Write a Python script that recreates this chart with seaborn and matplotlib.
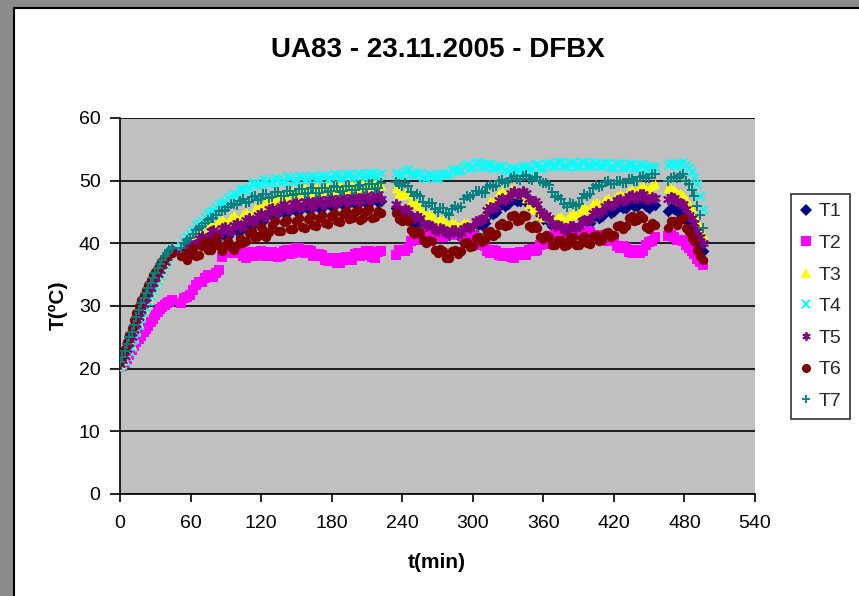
import matplotlib
matplotlib.use("Agg")
import matplotlib.pyplot as plt
import seaborn as sns
from matplotlib.lines import Line2D
from matplotlib.patches import Rectangle

sns.set_theme(style="white")
plt.rcParams['font.family'] = ['Liberation Sans', 'DejaVu Sans']

# ---------------- data ----------------
# main readings
time_seg1 = [0, 2, 4, 6, 8, 10, 12, 14, 16, 18, 20, 22, 24, 26, 28, 30, 32, 34, 36, 38, 40, 42, 44]
time_seg2 = [52, 57, 62, 67, 72, 77, 82, 87, 92, 97, 102, 107, 112, 117, 122, 127, 132, 137,
             142, 147, 152, 157, 162, 167, 172, 177, 182, 187, 192, 197, 202, 207, 212, 217, 222]
time_seg3 = [235, 240, 245, 250, 255, 260, 265, 270, 275, 280, 285, 290, 295, 300, 305, 310,
             315, 320, 325, 330, 335, 340, 345, 350, 355, 360, 365, 370, 375, 380, 385, 390,
             395, 400, 405, 410, 415, 420, 425, 430, 435, 440, 445, 450, 455]
time_seg4 = [466, 471, 476, 481, 486, 491, 496]
# in-between readings
time_seg2b = [54.5, 59.5, 64.5, 69.5, 74.5, 79.5, 84.5, 89.5, 94.5, 99.5, 104.5, 109.5, 114.5,
              119.5, 124.5, 129.5, 134.5, 139.5, 144.5, 149.5, 154.5, 159.5, 164.5, 169.5,
              174.5, 179.5, 184.5, 189.5, 194.5, 199.5, 204.5, 209.5, 214.5, 219.5]
time_seg3b = [237.5, 242.5, 247.5, 252.5, 257.5, 262.5, 267.5, 272.5, 277.5, 282.5, 287.5,
              292.5, 297.5, 302.5, 307.5, 312.5, 317.5, 322.5, 327.5, 332.5, 337.5, 342.5,
              347.5, 352.5, 357.5, 362.5, 367.5, 372.5, 377.5, 382.5, 387.5, 392.5, 397.5,
              402.5, 407.5, 412.5, 417.5, 422.5, 427.5, 432.5, 437.5, 442.5, 447.5, 452.5]
time_seg4b = [468.5, 473.5, 478.5, 483.5, 488.5, 493.5]

T1 = ([20.8, 21.5, 22.3, 23.3, 24.3, 25.2, 26.3, 27.5, 28.6, 29.7, 30.6, 31.4, 32.2, 33.0, 33.8,
       34.6, 35.3, 36.0, 36.6, 37.3, 38.0, 38.5, 39.0]
      + [38.3, 39.4, 39.2, 40.3, 40.0, 41.2, 40.6, 41.7, 41.2, 42.4, 42.0, 43.2, 42.8, 44.0, 43.6,
         44.8, 44.3, 45.4, 44.8, 45.8, 45.1, 46.1, 45.4, 46.3, 45.7, 46.5, 45.9, 46.7, 46.0, 46.9,
         46.2, 47.1, 46.4, 47.2, 46.8]
      + [45.7, 44.8, 44.6, 43.3, 43.3, 42.3, 42.6, 41.7, 42.1, 41.3, 41.8, 41.3, 42.1, 42.0, 43.1,
         43.3, 44.8, 45.0, 46.3, 46.2, 47.1, 46.7, 47.0, 45.7, 45.5, 43.9, 43.6, 42.3, 42.5, 41.7,
         42.3, 42.1, 43.3, 43.3, 44.5, 44.3, 45.3, 45.1, 46.0, 45.7, 46.5, 46.0, 46.5, 45.7, 46.1]
      + [45.2, 45.5, 45.0, 44.0, 42.5, 40.5, 38.8])
T1_mid = ([38.9, 39.1, 40.1, 39.9, 40.9, 40.6, 41.4, 41.2, 42.0, 41.9, 42.8, 42.7, 43.6, 43.5,
           44.4, 44.3, 45.1, 44.9, 45.5, 45.2, 45.8, 45.5, 46.1, 45.7, 46.3, 45.9, 46.6, 46.1,
           46.7, 46.3, 46.8, 46.4, 47.0, 46.6]
          + [45.0, 44.9, 43.7, 43.6, 42.5, 42.7, 41.9, 42.1, 41.4, 41.8, 41.3, 42.0, 41.8, 42.8,
             43.0, 44.3, 44.7, 45.9, 46.0, 46.9, 46.7, 47.1, 46.1, 45.8, 44.5, 43.9, 42.7, 42.6,
             41.8, 42.2, 41.9, 43.0, 43.0, 44.2, 44.1, 45.1, 44.9, 45.8, 45.6, 46.3, 46.0, 46.5,
             45.9, 46.1]
          + [45.6, 45.1, 44.6, 43.2, 41.6, 39.6])

T2 = ([20.3, 20.5, 20.9, 21.5, 22.2, 23.0, 23.6, 24.2, 24.7, 25.2, 25.8, 26.3, 26.8, 27.4, 28.0,
       28.6, 29.1, 29.6, 29.9, 30.2, 30.4, 30.7, 31.0]
      + [30.5, 31.5, 32.5, 33.8, 34.5, 34.8, 35.2, 37.8, 38.9, 38.4, 38.7, 37.7, 38.6, 38.1, 38.6,
         38.0, 38.4, 37.9, 38.9, 38.4, 39.3, 38.5, 38.8, 37.9, 38.1, 37.2, 37.6, 36.9, 37.8, 37.4,
         38.5, 38.1, 38.7, 37.7, 38.7]
      + [38.2, 39.0, 39.2, 40.8, 40.9, 41.8, 41.5, 41.8, 41.0, 41.8, 41.5, 41.8, 40.9, 41.1, 39.7,
         39.5, 38.5, 38.8, 38.0, 38.5, 37.7, 38.6, 38.2, 39.1, 38.9, 40.1, 40.2, 41.5, 41.5, 42.3,
         41.9, 42.3, 41.5, 41.8, 41.0, 41.3, 40.3, 40.5, 39.3, 39.3, 38.5, 38.9, 38.7, 40.2, 41.0]
      + [41.2, 41.0, 40.5, 39.8, 38.8, 37.5, 36.5])
T2_mid = ([31.2, 31.8, 33.3, 33.9, 34.9, 34.6, 35.8, 38.4, 38.4, 38.9, 37.9, 38.4, 38.0, 38.7,
           38.0, 38.6, 37.8, 38.7, 38.3, 39.2, 38.6, 39.0, 38.0, 38.3, 37.3, 37.7, 36.9, 37.6,
           37.3, 38.3, 37.9, 38.8, 37.8, 38.6]
          + [38.9, 38.8, 40.3, 40.5, 41.6, 41.3, 41.9, 41.1, 41.7, 41.3, 42.0, 41.0, 41.3, 40.1,
             39.9, 38.7, 38.9, 38.1, 38.5, 37.8, 38.4, 38.1, 38.9, 38.7, 39.8, 39.9, 41.1, 41.2,
             42.2, 41.8, 42.4, 41.6, 41.9, 41.1, 41.4, 40.5, 40.7, 39.6, 39.6, 38.6, 39.0, 38.5,
             39.8, 40.3]
          + [41.4, 40.6, 40.3, 39.2, 38.3, 37.0])

T3 = ([20.4, 20.8, 21.4, 22.2, 23.0, 23.8, 25.0, 26.2, 27.3, 28.4, 29.3, 30.2, 31.1, 31.9, 32.8,
       33.6, 34.4, 35.2, 35.9, 36.7, 37.5, 38.2, 38.8]
      + [38.8, 39.8, 40.3, 41.6, 41.7, 43.0, 42.9, 43.9, 43.4, 44.5, 43.9, 45.0, 44.6, 46.0, 45.9,
         47.2, 46.8, 47.9, 47.4, 48.4, 47.9, 48.8, 48.2, 49.0, 48.4, 49.2, 48.5, 49.4, 48.7, 49.5,
         48.9, 49.7, 49.0, 49.8, 49.3]
      + [48.8, 47.7, 47.8, 46.2, 45.8, 44.5, 44.5, 43.5, 43.8, 43.0, 43.3, 42.9, 43.3, 42.9, 44.1,
         44.7, 46.8, 47.2, 48.3, 48.0, 48.8, 47.9, 47.3, 45.5, 45.3, 44.2, 44.5, 43.7, 44.3, 43.9,
         44.8, 44.7, 45.8, 45.7, 46.6, 46.3, 47.3, 47.0, 47.9, 47.7, 48.6, 48.3, 49.1, 48.7, 49.4]
      + [48.8, 48.6, 48.0, 47.0, 45.5, 43.5, 41.5])
T3_mid = ([39.5, 39.7, 41.1, 41.3, 42.6, 42.6, 43.6, 43.4, 44.2, 43.9, 44.7, 44.5, 45.6, 45.6,
           46.8, 46.7, 47.6, 47.3, 48.2, 47.8, 48.6, 48.1, 48.9, 48.3, 49.1, 48.5, 49.3, 48.7,
           49.4, 48.9, 49.6, 49.0, 49.7, 49.2]
          + [48.0, 48.0, 46.8, 46.2, 44.9, 44.7, 43.8, 43.9, 43.2, 43.4, 42.8, 43.4, 42.8, 43.8,
             44.2, 46.0, 46.8, 48.0, 47.9, 48.6, 48.1, 47.8, 46.2, 45.6, 44.6, 44.6, 43.9, 44.2,
             43.8, 44.6, 44.5, 45.5, 45.5, 46.4, 46.2, 47.0, 46.9, 47.7, 47.5, 48.4, 48.2, 49.0,
             48.6, 49.3]
          + [48.9, 48.1, 47.7, 46.2, 44.6, 42.4])

T4 = ([20.3, 20.7, 21.2, 22.0, 22.8, 23.5, 24.7, 25.9, 27.0, 28.1, 29.0, 29.9, 30.8, 31.7, 32.5,
       33.4, 34.2, 35.0, 35.8, 36.6, 37.4, 38.2, 39.0]
      + [39.5, 41.0, 42.2, 43.2, 44.2, 45.0, 45.8, 46.5, 47.2, 47.8, 48.6, 48.5, 49.6, 49.3, 50.2,
         49.6, 50.4, 49.8, 50.7, 49.9, 50.8, 50.1, 50.8, 50.3, 50.9, 50.3, 51.0, 50.4, 51.1, 50.5,
         51.2, 50.6, 51.3, 50.7, 51.3]
      + [51.3, 50.9, 51.8, 50.9, 51.3, 50.5, 50.9, 50.5, 51.3, 51.0, 51.9, 51.7, 52.6, 52.2, 52.9,
         52.2, 52.7, 52.0, 52.3, 51.5, 52.1, 51.7, 52.4, 51.9, 52.6, 52.1, 52.8, 52.3, 52.9, 52.2,
         52.9, 52.4, 52.9, 52.4, 52.8, 52.3, 52.8, 52.1, 52.8, 52.1, 52.6, 52.1, 52.5, 52.0, 52.2]
      + [52.5, 52.6, 52.7, 52.5, 51.5, 49.5, 45.5])
T4_mid = ([40.4, 41.5, 42.9, 43.6, 44.8, 45.3, 46.3, 46.8, 47.6, 47.9, 48.7, 48.9, 49.6, 49.5,
           50.0, 49.8, 50.3, 50.0, 50.5, 50.1, 50.6, 50.2, 50.7, 50.3, 50.8, 50.4, 50.9, 50.5,
           51.0, 50.6, 51.1, 50.7, 51.2, 50.8]
          + [50.9, 51.6, 51.1, 51.3, 50.6, 51.0, 50.4, 51.1, 50.9, 51.7, 51.5, 52.4, 52.1, 52.8,
             52.3, 52.6, 52.1, 52.4, 51.7, 52.0, 51.7, 52.3, 51.9, 52.5, 52.1, 52.7, 52.3, 52.9,
             52.3, 52.8, 52.4, 53.0, 52.4, 52.9, 52.3, 52.8, 52.2, 52.7, 52.2, 52.6, 52.1, 52.6,
             52.0, 52.4]
          + [52.8, 52.4, 52.9, 52.0, 50.6, 47.6])

T5 = ([20.7, 21.4, 22.1, 23.1, 24.1, 25.0, 26.1, 27.2, 28.3, 29.4, 30.3, 31.2, 32.0, 32.8, 33.6,
       34.4, 35.1, 35.8, 36.5, 37.1, 37.8, 38.3, 38.8]
      + [38.5, 39.6, 39.7, 40.9, 40.6, 41.9, 41.4, 42.4, 41.9, 43.0, 42.6, 43.8, 43.4, 44.6, 44.2,
         45.4, 44.9, 46.0, 45.4, 46.4, 45.8, 46.7, 46.0, 46.9, 46.2, 47.1, 46.4, 47.3, 46.6, 47.4,
         46.7, 47.6, 46.9, 47.8, 47.1]
      + [46.3, 45.2, 45.3, 44.0, 44.1, 42.7, 42.8, 41.9, 42.3, 41.5, 42.1, 41.7, 42.6, 42.7, 43.8,
         44.2, 45.8, 46.0, 47.3, 47.2, 48.3, 47.9, 48.1, 46.7, 46.3, 44.5, 44.1, 42.7, 42.8, 42.0,
         42.8, 42.7, 43.8, 43.9, 45.1, 45.2, 46.3, 46.2, 47.1, 46.9, 47.7, 47.3, 47.8, 47.0, 47.3]
      + [47.0, 47.3, 46.5, 45.5, 44.0, 42.0, 40.0])
T5_mid = ([38.6, 40.0, 39.9, 41.2, 40.9, 42.1, 41.5, 42.6, 42.0, 43.3, 42.7, 44.1, 43.5, 44.9,
           44.3, 45.6, 45.0, 46.2, 45.4, 46.6, 45.8, 46.8, 46.0, 47.0, 46.2, 47.2, 46.4, 47.4,
           46.6, 47.5, 46.8, 47.7, 47.0, 47.9]
          + [45.5, 45.5, 44.4, 44.3, 43.2, 43.0, 42.1, 42.4, 41.6, 42.1, 41.6, 42.4, 42.4, 43.5,
             43.7, 45.3, 45.6, 46.9, 46.9, 48.0, 47.8, 48.3, 47.1, 46.8, 45.1, 44.6, 43.2, 43.0,
             42.1, 42.7, 42.5, 43.5, 43.6, 44.8, 44.9, 46.0, 45.9, 46.9, 46.7, 47.5, 47.2, 47.8,
             47.1, 47.4]
          + [47.4, 46.7, 46.2, 44.6, 43.2, 41.0])

T6 = ([21.2, 22.0, 23.2, 24.3, 25.4, 26.5, 27.7, 28.9, 30.0, 31.0, 31.8, 32.6, 33.4, 34.2, 34.9,
       35.5, 36.1, 36.7, 37.2, 37.6, 38.0, 38.3, 38.5]
      + [38.0, 37.3, 39.3, 38.2, 40.3, 39.0, 40.8, 38.7, 40.3, 38.9, 40.9, 40.3, 42.0, 41.2, 42.2,
         41.8, 43.5, 42.0, 43.8, 42.3, 44.1, 42.5, 44.3, 42.8, 44.6, 43.1, 44.8, 43.4, 45.1, 44.0,
         45.3, 44.1, 45.4, 44.2, 44.8]
      + [44.9, 43.6, 43.5, 41.5, 41.7, 40.0, 40.3, 38.5, 38.8, 37.6, 38.9, 38.7, 40.2, 39.5, 41.0,
         40.5, 42.0, 41.5, 43.3, 43.0, 44.5, 43.7, 44.3, 42.5, 42.5, 40.7, 41.0, 39.7, 40.5, 39.8,
         41.0, 39.7, 41.1, 39.9, 41.3, 40.5, 41.8, 41.3, 43.0, 42.7, 44.3, 43.8, 44.0, 42.3, 43.0]
      + [42.5, 43.5, 43.8, 42.5, 40.8, 39.0, 37.3])
T6_mid = ([38.6, 38.2, 38.0, 39.6, 39.0, 40.1, 39.5, 39.7, 39.4, 39.8, 40.0, 41.6, 40.8, 42.6,
           41.0, 43.0, 42.0, 43.4, 42.3, 43.6, 42.6, 43.9, 42.9, 44.1, 43.2, 44.4, 43.5, 44.7,
           43.9, 45.0, 43.8, 45.2, 44.0, 45.1]
          + [43.9, 43.9, 42.2, 42.0, 40.5, 40.6, 39.0, 39.1, 37.7, 38.8, 38.3, 40.0, 39.4, 40.8,
             40.2, 41.8, 41.2, 42.9, 42.7, 44.3, 43.6, 44.6, 42.8, 43.0, 41.0, 41.4, 39.8, 40.6,
             39.6, 40.9, 39.8, 40.9, 40.0, 41.1, 40.4, 41.7, 41.0, 42.7, 42.3, 44.0, 43.5, 44.5,
             42.6, 43.2]
          + [43.5, 43.0, 44.0, 41.8, 40.3, 38.0])

T7 = ([21.0, 21.8, 22.8, 23.9, 25.0, 25.8, 27.0, 28.2, 29.3, 30.4, 31.3, 32.1, 32.9, 33.7, 34.5,
       35.3, 36.0, 36.7, 37.3, 37.9, 38.5, 38.9, 39.3]
      + [39.2, 40.5, 41.5, 42.5, 43.2, 44.0, 44.6, 45.2, 45.8, 46.2, 46.8, 46.4, 47.4, 46.9, 47.9,
         47.2, 48.2, 47.5, 48.4, 47.7, 48.7, 47.8, 48.8, 48.1, 48.8, 48.2, 49.1, 48.2, 49.2, 48.5,
         49.2, 48.6, 49.5, 48.6, 49.7]
      + [49.8, 49.2, 49.2, 47.5, 47.5, 46.0, 46.4, 45.0, 45.7, 44.6, 45.9, 45.8, 47.6, 47.7, 48.4,
         48.1, 49.3, 49.1, 50.1, 49.8, 50.7, 50.1, 50.9, 50.1, 50.6, 49.6, 49.3, 47.4, 47.1, 45.8,
         46.3, 46.2, 47.8, 47.9, 49.3, 49.2, 49.9, 49.5, 50.0, 49.6, 50.3, 49.9, 50.8, 50.5, 51.0]
      + [50.0, 50.6, 50.8, 50.0, 48.5, 46.0, 42.5])
T7_mid = ([40.0, 40.9, 42.2, 42.7, 43.8, 44.1, 45.1, 45.3, 46.2, 46.1, 47.0, 46.6, 47.5, 47.1,
           47.9, 47.4, 48.2, 47.6, 48.4, 47.9, 48.6, 48.0, 48.8, 48.1, 48.9, 48.3, 49.0, 48.4,
           49.2, 48.5, 49.3, 48.7, 49.4, 48.8]
          + [49.4, 49.6, 48.2, 47.9, 46.6, 46.5, 45.5, 45.6, 44.9, 45.5, 45.6, 47.0, 47.4, 48.4,
             48.0, 49.0, 49.0, 49.9, 49.7, 50.5, 50.2, 50.8, 50.3, 50.6, 49.9, 49.7, 48.2, 47.5,
             46.3, 46.4, 45.9, 47.2, 47.6, 48.8, 49.0, 49.8, 49.5, 50.0, 49.6, 50.2, 49.9, 50.6,
             50.4, 51.1]
          + [50.5, 50.4, 51.0, 49.4, 47.6, 44.5])

series_names = ["T1", "T2", "T3", "T4", "T5", "T6", "T7"]
series_main = [T1, T2, T3, T4, T5, T6, T7]
series_mid = [T1_mid, T2_mid, T3_mid, T4_mid, T5_mid, T6_mid, T7_mid]

x_ticks = [0, 60, 120, 180, 240, 300, 360, 420, 480, 540]
y_ticks = [0, 10, 20, 30, 40, 50, 60]

title_text = "UA83 - 23.11.2005 - DFBX"
x_label = "t(min)"
y_label = "T(ºC)"

# ---------------- style ----------------
colors = {"T1": "#000080", "T2": "#FF00FF", "T3": "#FFFF00", "T4": "#00FFFF",
          "T5": "#800080", "T6": "#800000", "T7": "#008080"}
markers = {"T1": "D", "T2": "s", "T3": "^", "T4": "x",
           "T5": (6, 2, 0), "T6": "o", "T7": "+"}
sizes = {"T1": 36, "T2": 42, "T3": 48, "T4": 38, "T5": 44, "T6": 46, "T7": 62}
line_art = {"T4", "T5", "T7"}

times_main = time_seg1 + time_seg2 + time_seg3 + time_seg4
times_mid = time_seg2b + time_seg3b + time_seg4b

W, H = 859, 596
fig = plt.figure(figsize=(W / 100, H / 100), dpi=100)
fig.patch.set_facecolor("white")

# window-like frame (grey band top/left)
fig.patches.append(Rectangle((0, 1 - 7 / H), 1, 7 / H, transform=fig.transFigure,
                             facecolor="#8c8c8c", edgecolor="none", zorder=0))
fig.patches.append(Rectangle((0, 0), 13 / W, 1, transform=fig.transFigure,
                             facecolor="#8c8c8c", edgecolor="none", zorder=0))
fig.lines.append(Line2D([13.5 / W, 1], [1 - 7.5 / H, 1 - 7.5 / H], transform=fig.transFigure,
                        color="black", linewidth=1.5))
fig.lines.append(Line2D([13.5 / W, 13.5 / W], [0, 1 - 7.5 / H], transform=fig.transFigure,
                        color="black", linewidth=1.5))

ax = fig.add_axes([120 / W, 1 - 494 / H, 635 / W, 376 / H])
ax.set_facecolor("#C0C0C0")

for name, vals, vals_mid in zip(series_names, series_main, series_mid):
    xs = times_main + times_mid
    ys = vals + vals_mid
    if name in line_art:
        sns.scatterplot(x=xs, y=ys, ax=ax, marker=markers[name], color=colors[name],
                        s=sizes[name], linewidth=1.4, zorder=3, legend=False)
    else:
        sns.scatterplot(x=xs, y=ys, ax=ax, marker=markers[name], color=colors[name],
                        s=sizes[name], linewidth=0, edgecolor=colors[name], zorder=3, legend=False)

ax.set_xlim(0, 540)
ax.set_ylim(0, 60)
ax.set_xticks(x_ticks)
ax.set_yticks(y_ticks)
ax.set_xticklabels([str(v) for v in x_ticks])
ax.set_yticklabels([str(v) for v in y_ticks])
ax.yaxis.grid(True, color="black", linewidth=1.2, zorder=1)
ax.xaxis.grid(False)
ax.set_axisbelow(True)
for side in ["top", "right"]:
    ax.spines[side].set_visible(False)
for side in ["left", "bottom"]:
    ax.spines[side].set_color("black")
    ax.spines[side].set_linewidth(1.2)
ax.tick_params(axis="x", direction="out", length=6, width=1.2, color="black",
               labelsize=14, pad=9, labelcolor="black", bottom=True)
ax.tick_params(axis="y", direction="out", length=7, width=1.2, color="black",
               labelsize=14, pad=7, labelcolor="black", left=True)
ax.set_xlabel("")
ax.set_ylabel("")

fig.text(437.5 / W, 1 - 50 / H, title_text, ha="center", va="center",
         fontsize=20, fontweight="bold", color="black")
fig.text(437 / W, 1 - 562 / H, x_label, ha="center", va="center",
         fontsize=15, fontweight="bold", color="black")
fig.text(58 / W, 1 - 305 / H, y_label, ha="center", va="center", rotation=90,
         fontsize=15, fontweight="bold", color="black")

handles = []
for name in series_names:
    if name in line_art:
        h = Line2D([], [], linestyle="none", marker=markers[name], color=colors[name],
                   markersize=6, markeredgewidth=1.3)
    else:
        h = Line2D([], [], linestyle="none", marker=markers[name], color=colors[name],
                   markersize=6.5, markeredgewidth=0)
    handles.append(h)
leg = ax.legend(handles, series_names, loc="upper left",
                bbox_to_anchor=(791 / W, 1 - 194 / H), bbox_transform=fig.transFigure,
                frameon=True, fancybox=False, edgecolor="black", facecolor="white",
                fontsize=14, handlelength=0.6, handletextpad=0.35, borderpad=0.45,
                labelspacing=0.72, borderaxespad=0)
leg.get_frame().set_linewidth(1.2)

fig.savefig("out.png", dpi=100)
